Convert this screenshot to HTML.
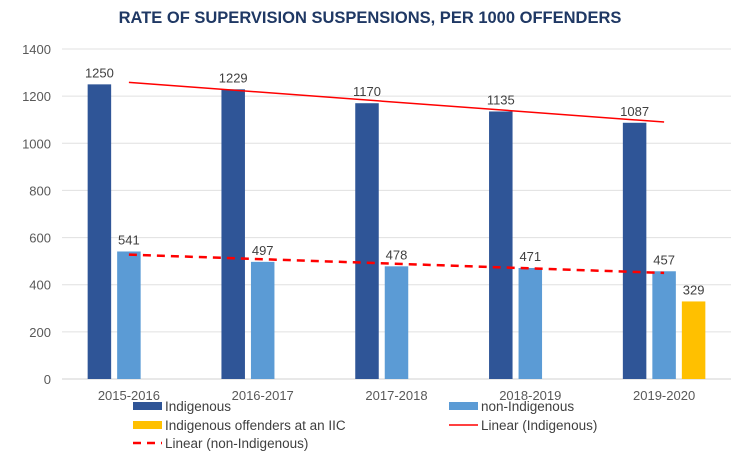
<!DOCTYPE html>
<html><head><meta charset="utf-8"><style>
body{margin:0;background:#fff;}
svg{display:block;font-family:"Liberation Sans",Arial,sans-serif;}
</style></head><body>
<svg id="chart" width="750" height="464" viewBox="0 0 750 464">
<text x="370" y="23" text-anchor="middle" font-size="16.5" font-weight="bold" fill="#1F3864">RATE OF SUPERVISION SUSPENSIONS, PER 1000 OFFENDERS</text>
<g id="grid"></g><g id="bars"></g><g id="trends"></g><g id="labels"></g>
<g id="legend" font-size="13.5" fill="#404040">
 <g><rect x="133" y="402" width="29" height="8" fill="#2F5597"/><text x="165" y="411">Indigenous</text></g>
 <g><rect x="449" y="402" width="29" height="8" fill="#5B9BD5"/><text x="481" y="411">non-Indigenous</text></g>
 <g><rect x="133" y="421" width="29" height="8" fill="#FFC000"/><text x="165" y="430">Indigenous offenders at an IIC</text></g>
 <g><line x1="449" y1="425" x2="478" y2="425" stroke="#FF0000" stroke-width="1.5"/><text x="481" y="430">Linear (Indigenous)</text></g>
 <g><line x1="133" y1="443" x2="162" y2="443" stroke="#FF0000" stroke-width="2.5" stroke-dasharray="8,6"/><text x="165" y="448">Linear (non-Indigenous)</text></g>
</g>
</svg>
<script>
const categories=["2015-2016","2016-2017","2017-2018","2018-2019","2019-2020"];
const indigenous=[1250,1229,1170,1135,1087];
const nonIndigenous=[541,497,478,471,457];
const iic=[null,null,null,null,329];
const yTicks=[0,200,400,600,800,1000,1200,1400];
const NS="http://www.w3.org/2000/svg";
const x0=62,x1=731,y0=379,yTop=49,yMax=1400;
const bw=(x1-x0)/categories.length;
const y=v=>y0-(v/yMax)*(y0-yTop);
const cx=i=>x0+bw*(i+0.5);
function el(t,a,p){const e=document.createElementNS(NS,t);for(const k in a)e.setAttribute(k,a[k]);document.getElementById(p).appendChild(e);return e;}
yTicks.forEach(t=>{
 const l=el('line',{x1:x0,x2:x1,y1:y(t),y2:y(t),stroke:t===0?'#D0D0D0':'#E0E0E0','stroke-width':1},'grid');
 
 
 const tx=el('text',{x:51,y:y(t)+5,'text-anchor':'end','font-size':13,fill:'#595959'},'grid');tx.textContent=t;
 
 
});
categories.forEach((c,i)=>{
 const tx=el('text',{x:cx(i),y:400,'text-anchor':'middle','font-size':13,fill:'#595959'},'grid');tx.textContent=c;
 
 
});
const series=[[indigenous,'#2F5597','indigenous'],[nonIndigenous,'#5B9BD5','non-indigenous'],[iic,'#FFC000','iic']];
const step=29.5,w=23.5;
series.forEach(([vals,col,nm],s)=>{
 vals.forEach((v,i)=>{
  if(v==null)return;
  const bx=cx(i)+(s-1)*step-w/2;
  const r=el('rect',{x:bx,y:y(v),width:w,height:y0-y(v),fill:col},'bars');
  
  
  const t=el('text',{x:bx+w/2,y:y(v)-7,'text-anchor':'middle','font-size':13,fill:'#404040'},'labels');t.textContent=v;
  
  
 });
});
function fit(vals){const n=vals.length;const mx=(n-1)/2;const my=vals.reduce((a,b)=>a+b)/n;let sxy=0,sxx=0;vals.forEach((v,i)=>{sxy+=(i-mx)*(v-my);sxx+=(i-mx)*(i-mx);});const m=sxy/sxx;return i=>my+m*(i-mx);}
const f1=fit(indigenous),f2=fit(nonIndigenous),n=categories.length-1;
const t1=el('line',{x1:cx(0),y1:y(f1(0)),x2:cx(n),y2:y(f1(n)),stroke:'#FF0000','stroke-width':1.5},'trends');


const t2=el('line',{x1:cx(0),y1:y(f2(0)),x2:cx(n),y2:y(f2(n)),stroke:'#FF0000','stroke-width':2.5,'stroke-dasharray':'8,6'},'trends');


</script>
</body></html>
